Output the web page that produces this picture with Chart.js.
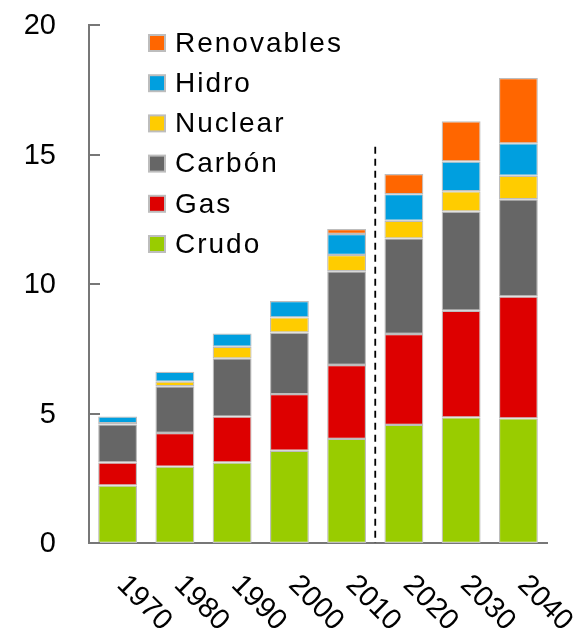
<!DOCTYPE html>
<html>
<head>
<meta charset="utf-8">
<script src="https://cdn.jsdelivr.net/npm/chart.js@4/dist/chart.umd.min.js"></script>
<style>
  body { margin: 0; background: #fff; }
  #chart { display: block; }
</style>
</head>
<body>
<canvas id="chart" width="574" height="634"></canvas>
<script>
const years = ["1970", "1980", "1990", "2000", "2010", "2020", "2030", "2040"];
const crudo = [2.22, 2.95, 3.11, 3.56, 4.02, 4.56, 4.85, 4.81];
const gas = [0.89, 1.30, 1.77, 2.19, 2.85, 3.51, 4.12, 4.71];
const carbon = [1.47, 1.80, 2.25, 2.38, 3.62, 3.69, 3.83, 3.75];
const nuclear = [0.05, 0.18, 0.45, 0.58, 0.63, 0.68, 0.78, 0.91];
const hidro = [0.25, 0.38, 0.51, 0.63, 0.81, 1.03, 1.15, 1.25];
const renovables = [0, 0, 0, 0, 0.19, 0.78, 1.55, 2.52];
const yTicks = [0, 5, 10, 15, 20];

const FONT = '"Liberation Sans", Arial, sans-serif';
const GRAY = '#777777';

// leyenda dentro del area del grafico (orden inverso)
const legendPlugin = {
    id: 'innerLegend',
    afterDraw(chart) {
        const ctx = chart.ctx;
        const sets = chart.data.datasets.slice().reverse();
        ctx.save();
        ctx.font = '28px ' + FONT;
        ctx.letterSpacing = '2px';
        ctx.textBaseline = 'middle';
        ctx.textAlign = 'left';
        sets.forEach((ds, i) => {
            const cy = 43 + i * 40.2;
            ctx.fillStyle = '#bdbdbd';
            ctx.fillRect(148, cy - 9, 18, 18);
            ctx.fillStyle = ds.backgroundColor;
            ctx.fillRect(150, cy - 7, 14, 14);
            ctx.fillStyle = '#000';
            ctx.fillText(ds.label, 175, cy + 1);
        });
        ctx.restore();
    }
};

// marcas hacia dentro, etiquetas de los ejes y linea discontinua
const axisPlugin = {
    id: 'axisExtras',
    afterDatasetsDraw(chart) {
        const ctx = chart.ctx;
        const x = chart.scales.x;
        const y = chart.scales.y;
        const area = chart.chartArea;
        ctx.save();

        // linea discontinua entre 2010 y 2020
        const xd = (x.getPixelForValue(4) + x.getPixelForValue(5)) / 2;
        ctx.strokeStyle = '#000';
        ctx.lineWidth = 1.8;
        ctx.setLineDash([7, 5]);
        ctx.beginPath();
        ctx.moveTo(xd, y.getPixelForValue(15.3));
        ctx.lineTo(xd, y.getPixelForValue(0));
        ctx.stroke();
        ctx.setLineDash([]);

        // marcas y etiquetas del eje y
        ctx.strokeStyle = GRAY;
        ctx.lineWidth = 2;
        ctx.font = '29px ' + FONT;
        ctx.fillStyle = '#000';
        ctx.textAlign = 'right';
        ctx.textBaseline = 'middle';
        yTicks.forEach(v => {
            const py = Math.round(y.getPixelForValue(v));
            ctx.beginPath();
            ctx.moveTo(area.left, py);
            ctx.lineTo(area.left + 11, py);
            ctx.stroke();
            ctx.fillText(String(v), area.left - 33, py + 1);
        });

        // etiquetas del eje x
        ctx.textAlign = 'left';
        ctx.textBaseline = 'alphabetic';
        chart.data.labels.forEach((lab, i) => {
            const px = x.getPixelForValue(i);
            ctx.save();
            ctx.translate(px - 2, area.bottom + 43);
            ctx.rotate(Math.PI / 4);
            ctx.fillText(lab, 0, 0);
            ctx.restore();
        });
        ctx.restore();
    }
};

function makeSet(label, data, color) {
    return {
        label: label,
        data: data,
        backgroundColor: color,
        borderColor: '#bdbdbd',
        borderWidth: 1.2,
        borderSkipped: false,
        categoryPercentage: 1,
        barPercentage: 0.68
    };
}

const ctx = document.getElementById('chart').getContext('2d');
new Chart(ctx, {
    type: 'bar',
    data: {
        labels: years,
        datasets: [
            makeSet('Crudo', crudo, '#99cc00'),
            makeSet('Gas', gas, '#dd0000'),
            makeSet('Carbón', carbon, '#666666'),
            makeSet('Nuclear', nuclear, '#ffcc00'),
            makeSet('Hidro', hidro, '#009fdf'),
            makeSet('Renovables', renovables, '#ff6600')
        ]
    },
    options: {
        responsive: false,
        animation: false,
        layout: { padding: { left: 89, right: 27, top: 25, bottom: 91 } },
        plugins: {
            legend: { display: false },
            tooltip: { enabled: false }
        },
        scales: {
            x: {
                stacked: true,
                offset: true,
                grid: { display: false, drawTicks: false },
                border: { display: true, color: GRAY, width: 2 },
                ticks: { display: false }
            },
            y: {
                stacked: true,
                min: 0,
                max: 20,
                afterBuildTicks: axis => { axis.ticks = yTicks.map(v => ({ value: v })); },
                grid: { display: false, drawTicks: false },
                border: { display: true, color: GRAY, width: 2 },
                ticks: { display: false }
            }
        }
    },
    plugins: [legendPlugin, axisPlugin]
});
</script>
</body>
</html>
